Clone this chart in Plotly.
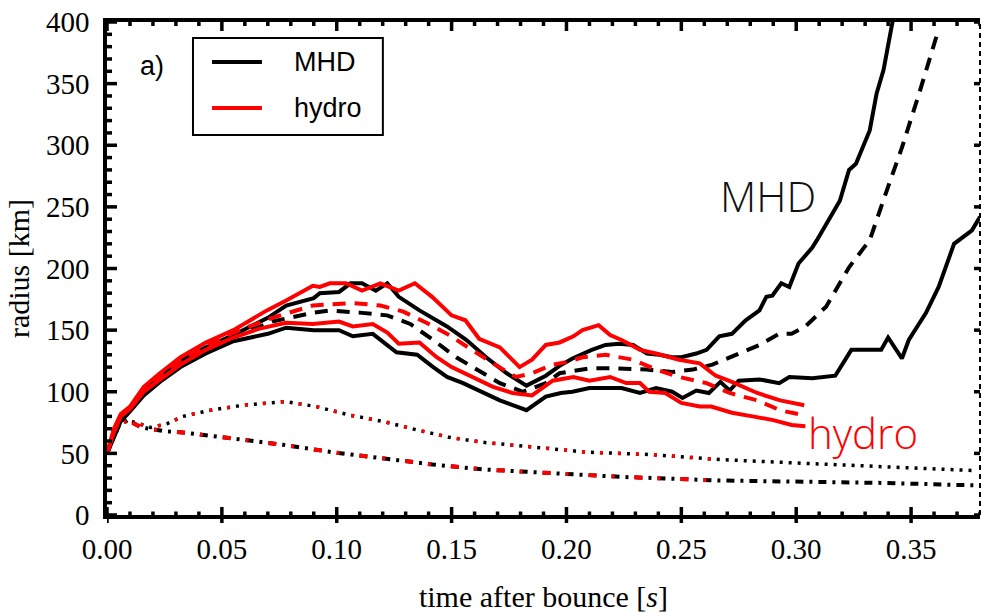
import plotly.graph_objects as go

# ---------------- data ----------------
mhd_max_t = [0, 0.003, 0.006, 0.01, 0.016, 0.023, 0.032, 0.043, 0.055, 0.07, 0.078, 0.09, 0.0926,
             0.101, 0.106, 0.111, 0.117, 0.122, 0.127, 0.136, 0.148, 0.1565, 0.165, 0.174, 0.1826,
             0.191, 0.197, 0.2026, 0.211, 0.217, 0.223, 0.229, 0.235, 0.2404, 0.246, 0.25, 0.2565,
             0.261, 0.2665, 0.272, 0.278, 0.284, 0.287, 0.2896, 0.2935, 0.297, 0.301, 0.307, 0.309,
             0.319, 0.323, 0.326, 0.332, 0.335, 0.338, 0.342, 0.344]
mhd_max_r = [50, 66, 80, 86, 101, 112, 125, 136, 146, 160, 170, 176, 180,
             181, 188, 188, 182, 188, 177, 166, 153, 142, 128, 115, 105,
             113, 121, 127, 134, 138, 139, 138, 131, 130, 128, 128, 131,
             134, 145, 147, 158, 166, 177, 178, 188, 185, 204, 217, 223,
             255, 280, 285, 312, 342, 361, 401, 420]

mhd_avg_t = [0, 0.003, 0.006, 0.01, 0.016, 0.023, 0.032, 0.043, 0.055, 0.072, 0.0896, 0.097,
             0.111, 0.122, 0.132, 0.142, 0.152, 0.162, 0.171, 0.181, 0.191, 0.197, 0.21, 0.222,
             0.235, 0.246, 0.255, 0.2635, 0.275, 0.284, 0.2926, 0.298, 0.304, 0.313, 0.323, 0.332,
             0.339, 0.346, 0.3535, 0.361]
mhd_avg_r = [50, 66, 79, 86, 100, 111, 123, 134, 144, 157, 164, 166,
             164, 162, 155, 142, 128, 117, 107, 100, 107, 115, 119, 119,
             118, 116, 118, 122, 131, 138, 147, 147, 153, 169, 201, 223,
             261, 298, 342, 388]

mhd_min_t = [0, 0.003, 0.006, 0.01, 0.016, 0.023, 0.032, 0.043, 0.055, 0.07, 0.078, 0.09, 0.101,
             0.107, 0.1157, 0.126, 0.135, 0.142, 0.148, 0.155, 0.162, 0.171, 0.1826, 0.191, 0.1975,
             0.2026, 0.21, 0.217, 0.224, 0.232, 0.239, 0.246, 0.2505, 0.2565, 0.262, 0.267, 0.271,
             0.275, 0.284, 0.2926, 0.297, 0.307, 0.317, 0.324, 0.330, 0.337, 0.340, 0.346, 0.349,
             0.3565, 0.362, 0.3687, 0.3765, 0.380]
mhd_min_r = [50, 64, 76, 84, 97, 108, 120, 131, 141, 147, 152, 150, 150,
             145, 147, 132, 130, 120, 112, 107, 101, 93, 85, 96, 99,
             100, 103, 103, 103, 99, 103, 100, 95, 101, 99, 108, 101,
             109, 110, 107, 112, 111, 113, 134, 134, 134, 144, 127, 142,
             164, 185, 220, 231, 242]

hydro_max_t = [0, 0.003, 0.006, 0.01, 0.016, 0.023, 0.032, 0.043, 0.055, 0.0696, 0.078, 0.0896,
               0.0926, 0.097, 0.104, 0.111, 0.119, 0.127, 0.134, 0.1415, 0.150, 0.156, 0.162,
               0.171, 0.1796, 0.185, 0.191, 0.197, 0.203, 0.207, 0.214, 0.219, 0.224, 0.232,
               0.239, 0.249, 0.258, 0.265, 0.272, 0.283, 0.293, 0.3035]
hydro_max_r = [50, 70, 82, 88, 104, 115, 128, 140, 150, 166, 174, 186,
               185, 188, 188, 182, 188, 182, 188, 177, 162, 158, 143,
               136, 120, 126, 138, 140, 145, 150, 154, 146, 142, 134,
               131, 126, 123, 113, 108, 99, 93, 89]

hydro_avg_t = [0, 0.003, 0.006, 0.01, 0.016, 0.023, 0.032, 0.043, 0.055, 0.072, 0.0896, 0.107,
               0.119, 0.129, 0.139, 0.149, 0.158, 0.168, 0.178, 0.185, 0.194, 0.2, 0.207, 0.217,
               0.229, 0.239, 0.249, 0.261, 0.271, 0.283, 0.293, 0.303]
hydro_avg_r = [50, 68, 81, 87, 102, 113, 126, 137, 148, 160, 170, 172,
               170, 165, 156, 146, 135, 123, 112, 115, 122, 124, 128, 130,
               126, 118, 112, 107, 99, 93, 85, 81]

hydro_min_t = [0, 0.003, 0.006, 0.01, 0.016, 0.023, 0.032, 0.043, 0.055, 0.066, 0.078, 0.0896,
               0.101, 0.107, 0.1157, 0.122, 0.127, 0.136, 0.1435, 0.150, 0.159, 0.168, 0.1765,
               0.185, 0.194, 0.203, 0.21, 0.219, 0.226, 0.232, 0.236, 0.243, 0.25, 0.258, 0.263,
               0.272, 0.281, 0.29, 0.298, 0.304]
hydro_min_r = [50, 67, 80, 86, 100, 110, 122, 134, 144, 151, 156, 155,
               157, 153, 155, 148, 139, 140, 128, 120, 112, 104, 99,
               97, 109, 112, 109, 112, 107, 107, 100, 99, 91, 88, 88,
               83, 80, 77, 73, 72]

dot_t = [0, 0.005, 0.009, 0.015, 0.019, 0.026, 0.033, 0.045, 0.059, 0.078, 0.091, 0.1057, 0.12,
         0.135, 0.149, 0.1635, 0.185, 0.2087, 0.237, 0.2665, 0.3026, 0.339, 0.378]
dot_r = [50, 72, 77, 73, 71, 74, 80, 85, 89, 92, 88, 81, 76,
         69, 63, 59, 55, 51, 49, 45, 42, 39, 36]

dashdot_t = [0, 0.005, 0.009, 0.015, 0.025, 0.033, 0.055, 0.0765, 0.098, 0.12, 0.1417, 0.1635,
             0.185, 0.223, 0.2665, 0.3026, 0.339, 0.378]
dashdot_r = [50, 72, 77, 71, 68, 67, 62, 57, 51, 46, 41, 37,
             35, 31, 28, 27, 26, 24]

hydro_end = 0.302
legend_names = ["MHD", "hydro"]

# axis tick positions
x_major = [0.00, 0.05, 0.10, 0.15, 0.20, 0.25, 0.30, 0.35]
x_minor = [i / 100 for i in range(0, 39) if i % 5 != 0]
y_major = [0, 50, 100, 150, 200, 250, 300, 350, 400]
y_minor = [v for v in range(0, 401, 10) if v % 50 != 0]

# ---------------- figure ----------------
fig = go.Figure()
BLACK = "black"
RED = "#ff0000"
LW = 4


def cut(t, r, tmax):
    tt, rr = [], []
    for a, b in zip(t, r):
        if a <= tmax:
            tt.append(a)
            rr.append(b)
    return tt, rr


# MHD dotted / dash-dot first, hydro on top
fig.add_trace(go.Scatter(x=dot_t, y=dot_r, mode="lines", showlegend=False,
                         line=dict(color=BLACK, width=3.5, dash="3px,6px")))
fig.add_trace(go.Scatter(x=dashdot_t, y=dashdot_r, mode="lines", showlegend=False,
                         line=dict(color=BLACK, width=4, dash="8px,6px,3px,6px")))
dt, dr = cut(dot_t, dot_r, hydro_end)
ddt, ddr = cut(dashdot_t, dashdot_r, hydro_end)
fig.add_trace(go.Scatter(x=dt, y=dr, mode="lines", showlegend=False,
                         line=dict(color=RED, width=3.5, dash="3px,15px")))
fig.add_trace(go.Scatter(x=ddt, y=ddr, mode="lines", showlegend=False,
                         line=dict(color=RED, width=4, dash="8px,15px,3px,20px")))

# MHD shock radii
fig.add_trace(go.Scatter(x=mhd_max_t, y=mhd_max_r, mode="lines", name=legend_names[0],
                         showlegend=False, line=dict(color=BLACK, width=LW)))
fig.add_trace(go.Scatter(x=mhd_avg_t, y=mhd_avg_r, mode="lines", showlegend=False,
                         line=dict(color=BLACK, width=LW, dash="13px,9px")))
fig.add_trace(go.Scatter(x=mhd_min_t, y=mhd_min_r, mode="lines", showlegend=False,
                         line=dict(color=BLACK, width=LW)))
# hydro shock radii
fig.add_trace(go.Scatter(x=hydro_max_t, y=hydro_max_r, mode="lines", name=legend_names[1],
                         showlegend=False, line=dict(color=RED, width=LW)))
fig.add_trace(go.Scatter(x=hydro_avg_t, y=hydro_avg_r, mode="lines", showlegend=False,
                         line=dict(color=RED, width=LW, dash="13px,9px")))
fig.add_trace(go.Scatter(x=hydro_min_t, y=hydro_min_r, mode="lines", showlegend=False,
                         line=dict(color=RED, width=LW)))

SERIF = "Liberation Serif"
SANS = "Liberation Sans"
tickfont = dict(family=SERIF, size=29, color="black")

fig.update_layout(
    width=982, height=613,
    margin=dict(l=107, r=2, t=22, b=98),
    paper_bgcolor="white", plot_bgcolor="white",
    showlegend=False,
    xaxis=dict(range=[0, 0.38], tickmode="array", tickvals=x_major,
               ticktext=[f"{v:.2f}" for v in x_major], ticks="",
               showline=True, linewidth=3.5, linecolor="black", mirror=True,
               showgrid=False, zeroline=False, tickfont=tickfont, ticklabelstandoff=5,
               title=dict(text="time after bounce [<i>s</i>]",
                          font=dict(family=SERIF, size=30, color="black"), standoff=24)),
    yaxis=dict(range=[0, 400], tickmode="array", tickvals=y_major, ticks="",
               showline=True, linewidth=3.5, linecolor="black", mirror=False,
               showgrid=False, zeroline=False, tickfont=tickfont, ticklabelstandoff=8,
               title=dict(text="radius [km]",
                          font=dict(family=SERIF, size=30, color="black"), standoff=8)),
)

TICK = dict(color="black", width=3.5)
# bottom axis ticks (crossing the axis) and top axis ticks (inside)
for v in x_major + x_minor:
    big = v in x_major
    h = 8 if big else 3.5
    fig.add_shape(type="line", xref="x", yref="paper", ysizemode="pixel", yanchor=0,
                  x0=v, x1=v, y0=-h, y1=h, line=TICK, layer="above")
    fig.add_shape(type="line", xref="x", yref="paper", ysizemode="pixel", yanchor=1,
                  x0=v, x1=v, y0=0, y1=-(9 if big else 4), line=TICK, layer="above")
# left axis ticks (inside)
for v in y_major + y_minor:
    big = v in y_major
    fig.add_shape(type="line", xref="paper", yref="y", xsizemode="pixel", xanchor=0,
                  x0=0, x1=(10 if big else 5), y0=v, y1=v, line=TICK, layer="above")
# right axis ticks (inside, major only)
for v in y_major:
    fig.add_shape(type="line", xref="paper", yref="y", xsizemode="pixel", xanchor=1,
                  x0=0, x1=-6, y0=v, y1=v, line=TICK, layer="above")

# dotted right frame (cover the solid mirror line)
fig.add_shape(type="line", xref="paper", yref="paper", x0=1, x1=1, y0=0, y1=1,
              line=dict(color="black", width=2, dash="5px,4px"), layer="above")

# legend (box, line samples, labels)
fig.add_shape(type="rect", xref="paper", yref="paper", x0=0.0985, x1=0.316, y0=0.771, y1=0.9675,
              line=dict(color="black", width=2), fillcolor="white", layer="above")
for name, col, yy in zip(legend_names, [BLACK, RED], [0.919, 0.8256]):
    fig.add_shape(type="line", xref="paper", yref="paper", x0=0.1203, x1=0.1775, y0=yy, y1=yy,
                  line=dict(color=col, width=LW), layer="above")
    fig.add_annotation(text=name, xref="paper", yref="paper", x=0.212, y=yy, xanchor="left",
                       yanchor="middle", showarrow=False,
                       font=dict(family=SANS, size=27, color="black"))

fig.add_annotation(text="a)", xref="paper", yref="paper", x=0.0515, y=0.911, xanchor="center",
                   yanchor="middle", showarrow=False, font=dict(family=SANS, size=27, color="black"))
fig.add_annotation(text="MHD", xref="paper", yref="paper", x=0.757, y=0.649, xanchor="center",
                   yanchor="middle", showarrow=False,
                   font=dict(family="Open Sans", size=42, color="#111111", weight=300))
fig.add_annotation(text="hydro", xref="paper", yref="paper", x=0.866, y=0.168, xanchor="center",
                   yanchor="middle", showarrow=False,
                   font=dict(family="Open Sans", size=42, color=RED, weight=300))

fig.write_html("out.html")
